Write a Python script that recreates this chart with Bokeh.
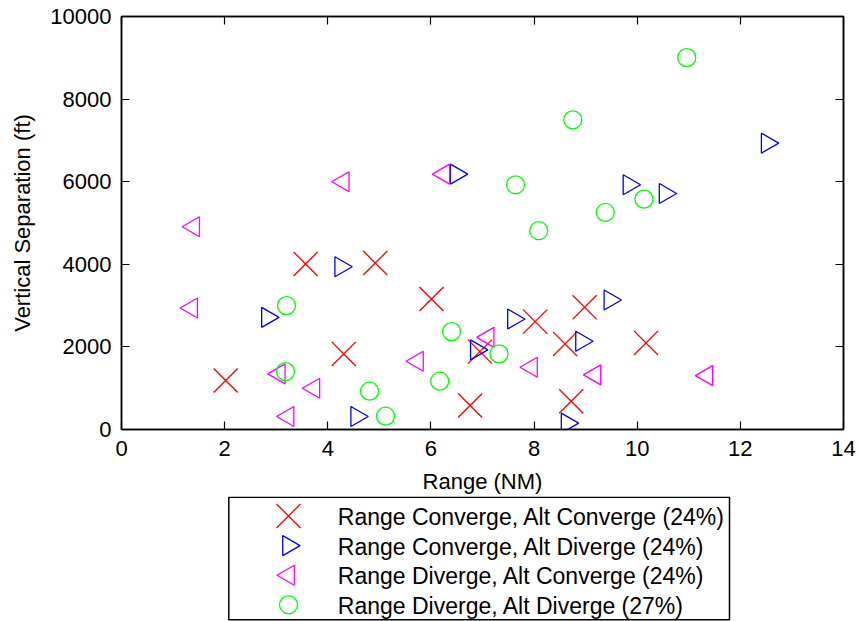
import math
from bokeh.plotting import figure
from bokeh.layouts import column
from bokeh.models import Range1d, LinearAxis, SingleIntervalTicker
from bokeh.core.properties import value
from bokeh.embed import file_html
from bokeh.resources import INLINE

# ---- data ----
rc_ac_x = [2.02, 3.57, 4.31, 4.92, 6.01, 6.76, 6.95, 8.02, 8.60, 8.98, 8.72, 10.17]
rc_ac_y = [1185, 4007, 1830, 4031, 3160, 580, 1886, 2612, 2072, 2958, 685, 2096]

rc_ad_x = [2.83, 4.25, 4.56, 6.88, 7.60, 8.92, 9.47, 8.64, 12.52, 9.84, 10.54, 6.49]
rc_ad_y = [2716, 3942, 314, 1927, 2677, 2136, 3136, 153, 6933, 5925, 5714, 6184]

rd_ac_x = [6.25, 4.30, 1.40, 1.36, 3.06, 3.73, 3.23, 5.74, 7.11, 7.95, 9.18, 11.35]
rd_ac_y = [6184, 5998, 4909, 2943, 1347, 999, 314, 1652, 2232, 1507, 1322, 1306]

rd_ad_x = [3.20, 3.18, 4.81, 5.12, 6.17, 6.40, 7.32, 10.96, 8.75, 7.64, 8.09, 9.38, 10.13]
rd_ad_y = [2999, 1403, 927, 322, 1169, 2370, 1830, 9004, 7497, 5925, 4813, 5255, 5579]

series_labels = ["Range Converge, Alt Converge (24%)",
                 "Range Converge, Alt Diverge (24%)",
                 "Range Diverge, Alt Converge (24%)",
                 "Range Diverge, Alt Diverge (27%)"]
series_colors = ["#FF0000", "#0000FF", "#FF00FF", "#00FF00"]
series_markers = ["x", "triangle", "triangle", "circle"]
series_angles = [0.0, -math.pi / 2, math.pi / 2, 0.0]

x_min, x_max, x_tick_step = 0, 14, 2
y_min, y_max, y_tick_step = 0, 10000, 2000

FONT = "Liberation Sans"

# ---- layout (pixels) ----
W = 860
H_MAIN, H_LEG = 496, 125
BORDER_L, BORDER_R, BORDER_T, BORDER_B = 121, 17, 16, 67

LW = 1.3
SIZES = {"x": 34, "triangle": 20, "circle": 18}

p = figure(width=W, height=H_MAIN, output_backend="svg", toolbar_location=None,
           x_range=Range1d(x_min, x_max), y_range=Range1d(y_min, y_max),
           min_border_left=BORDER_L, min_border_right=BORDER_R, min_border_top=BORDER_T,
           min_border_bottom=BORDER_B, x_axis_label="Range (NM)",
           y_axis_label="Vertical Separation (ft)")
p.grid.visible = False
p.background_fill_color = "white"
p.border_fill_color = "white"
p.outline_line_color = "black"
p.outline_line_width = 1.5

p.xaxis.ticker = SingleIntervalTicker(interval=x_tick_step, num_minor_ticks=0)
p.yaxis.ticker = SingleIntervalTicker(interval=y_tick_step, num_minor_ticks=0)

for ax in (p.xaxis[0], p.yaxis[0]):
    ax.axis_line_color = "black"
    ax.axis_line_width = 1.5
    ax.major_tick_in = 8
    ax.major_tick_out = 0
    ax.major_tick_line_width = 1.2
    ax.minor_tick_line_color = None
    ax.major_label_text_font = FONT
    ax.major_label_text_font_size = "22px"
    ax.major_label_text_color = "black"
    ax.axis_label_text_font = FONT
    ax.axis_label_text_font_size = "22px"
    ax.axis_label_text_font_style = "normal"
    ax.axis_label_text_color = "black"
p.xaxis.major_label_standoff = 11
p.yaxis.major_label_standoff = 10
p.xaxis.axis_label_standoff = 10
p.yaxis.axis_label_standoff = 12

top_ax = LinearAxis(ticker=SingleIntervalTicker(interval=x_tick_step, num_minor_ticks=0))
right_ax = LinearAxis(ticker=SingleIntervalTicker(interval=y_tick_step, num_minor_ticks=0))
for ax in (top_ax, right_ax):
    ax.axis_line_color = "black"
    ax.axis_line_width = 1.5
    ax.major_tick_in = 8
    ax.major_tick_out = 0
    ax.major_tick_line_width = 1.2
    ax.minor_tick_line_color = None
    ax.major_label_text_color = None
    ax.major_label_text_font_size = "0px"
    ax.major_label_standoff = 0
p.add_layout(top_ax, "above")
p.add_layout(right_ax, "right")

series_data = [(rc_ac_x, rc_ac_y), (rc_ad_x, rc_ad_y), (rd_ac_x, rd_ac_y), (rd_ad_x, rd_ad_y)]
for (xs, ys), col, mk, ang in zip(series_data, series_colors, series_markers, series_angles):
    p.scatter(xs, ys, marker=mk, size=SIZES[mk], angle=ang, line_color=col,
              fill_color=None, line_width=LW)

# ---- legend panel below the axes (page-x pixels; y in pixels from the panel top) ----
LEG_L, LEG_R, LEG_T, LEG_B = 228.3, 729.0, 0.75, 123.3
MARK_X, TEXT_X = 288.0, 337.3
ROW0, ROW_STEP, TEXT_DY = 19.5, 29.6, 1.0

leg = figure(width=W, height=H_LEG, output_backend="svg", toolbar_location=None,
             x_range=Range1d(BORDER_L, W - BORDER_R), y_range=Range1d(0, H_LEG),
             x_axis_location=None, y_axis_location=None,
             min_border_left=BORDER_L, min_border_right=BORDER_R,
             min_border_top=0, min_border_bottom=0)
leg.grid.visible = False
leg.outline_line_color = None
leg.background_fill_color = "white"
leg.border_fill_color = "white"

leg.quad(left=[LEG_L], right=[LEG_R], top=[H_LEG - LEG_T], bottom=[H_LEG - LEG_B],
         fill_color="white", line_color="black", line_width=1.5)

row_y = [ROW0 + i * ROW_STEP for i in range(len(series_labels))]
for i, (col, mk, ang) in enumerate(zip(series_colors, series_markers, series_angles)):
    leg.scatter([MARK_X], [H_LEG - row_y[i]], marker=mk, size=SIZES[mk], angle=ang,
                line_color=col, fill_color=None, line_width=LW)
leg.text(x=[TEXT_X] * len(series_labels), y=[H_LEG - (r + TEXT_DY) for r in row_y],
         text=series_labels, text_font=value(FONT), text_font_size="23px",
         text_color="black", text_baseline="middle", text_align="left")

layout = column(p, leg, spacing=0)
open("out.html", "w").write(file_html(layout, INLINE))
